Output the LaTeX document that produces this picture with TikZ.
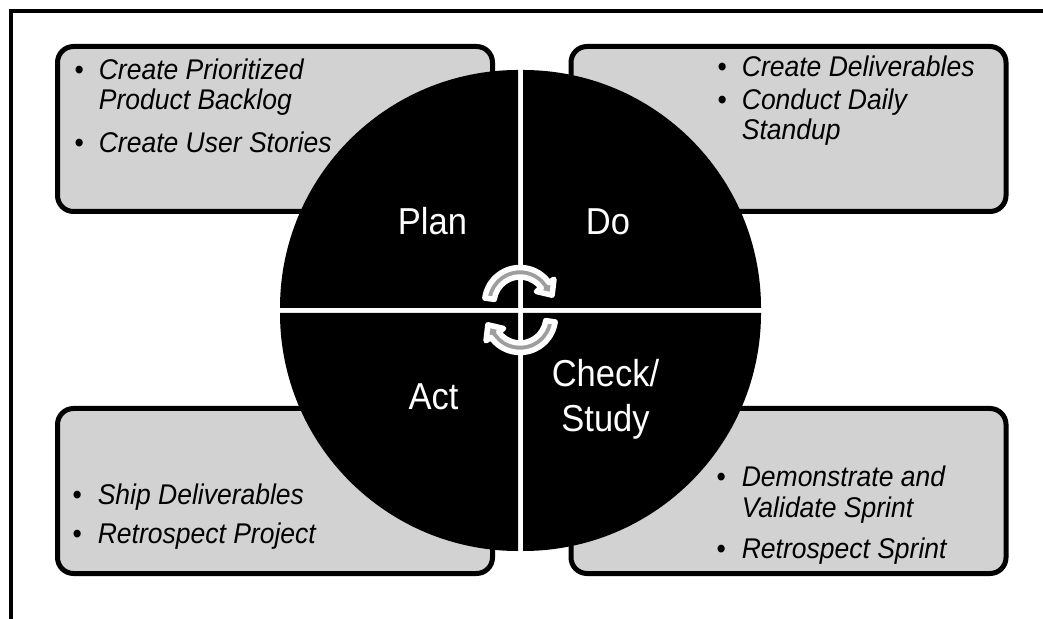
\documentclass[tikz,border=0pt]{standalone}
\usepackage{fontspec}
\setmainfont{Liberation Sans}
\definecolor{boxgray}{RGB}{210,210,210}
\definecolor{cyclegray}{RGB}{158,158,158}
\tikzset{
  stepbox/.style={draw=black, line width=5pt, fill=boxgray, rounded corners=16pt,
    minimum width=435pt, minimum height=165pt},
  steplist/.style={anchor=base west, inner sep=0pt, font=\fontsize{28.5}{30}\selectfont\itshape},
  phase/.style={text=white, anchor=base, inner sep=0pt,
    font=\fontsize{37.5}{45}\selectfont},
  quarter/.style={fill=black},
  cyclearrow/.style={fill=cyclegray, draw=white, line width=5.5pt, line join=round}
}
\newcommand{\bul}{{\upshape\textbullet}}
\newcommand{\narrow}[2][0.93]{\scalebox{#1}[1]{#2}}
\begin{document}
\begin{tikzpicture}[x=1pt, y=1pt]
  \useasboundingbox (0,0) rectangle (1043,618);
  \draw[line width=4pt] (10.5,-5) |- (1050,606.7);
  % boxes
  \node[stepbox] (planbox) at (275,489) {};
  \node[stepbox] (dobox) at (788.5,489) {};
  \node[stepbox] (actbox) at (275,127) {};
  \node[stepbox] (checkbox) at (788.5,127) {};
  % lists
  \node[steplist] (planlist) at (74.5,538) {\narrow{\begin{tabular}[t]{@{}l@{\hspace{16pt}}l@{}}
    \bul & Create Prioritized\\
         & Product Backlog\\[13pt]
    \bul & Create User Stories
  \end{tabular}}};
  \node[steplist] (dolist) at (717.5,541) {\narrow{\begin{tabular}[t]{@{}l@{\hspace{16pt}}l@{}}
    \bul & Create Deliverables\\[3pt]
    \bul & Conduct Daily\\
         & Standup
  \end{tabular}}};
  \node[steplist] (actlist) at (72.5,113) {\narrow{\begin{tabular}[t]{@{}l@{\hspace{17pt}}l@{}}
    \bul & Ship Deliverables\\[9pt]
    \bul & Retrospect Project
  \end{tabular}}};
  \node[steplist] (checklist) at (716.5,131) {\narrow{\begin{tabular}[t]{@{}l@{\hspace{17pt}}l@{}}
    \bul & Demonstrate and\\[1pt]
         & Validate Sprint\\[11pt]
    \bul & Retrospect Sprint
  \end{tabular}}};
  % circle
  \coordinate (c) at (520.5,307.5);
  \foreach \a in {0,90,180,270}
    \fill[quarter] ([shift={(\a+45:3.54)}]c) -- ++(\a:238)
      arc[start angle=\a, end angle=\a+90, radius=238] -- cycle;
  % phases
  \node[phase] (plan) at (432.5,383) {\narrow[0.92]{Plan}};
  \node[phase] (do) at (608,383) {\narrow[0.92]{Do}};
  \node[phase] (act) at (433.5,208) {\narrow[0.92]{Act}};
  \node[phase] (check) at (605.5,186) {\narrow[0.92]{\begin{tabular}[b]{@{}c@{}}Check/\\Study\end{tabular}}};
  % cycle
  \foreach \r/\cy in {0/315,180/301}
    \path[cyclearrow, shift={(520,\cy)}, rotate=\r] (172:35.5)
      arc[start angle=172, end angle=35, radius=35.5] -- (35:41.5) -- (32.1,7.8)
      -- (35:20) -- (35:26) arc[start angle=35, end angle=172, radius=26] -- cycle;
\end{tikzpicture}
\end{document}
